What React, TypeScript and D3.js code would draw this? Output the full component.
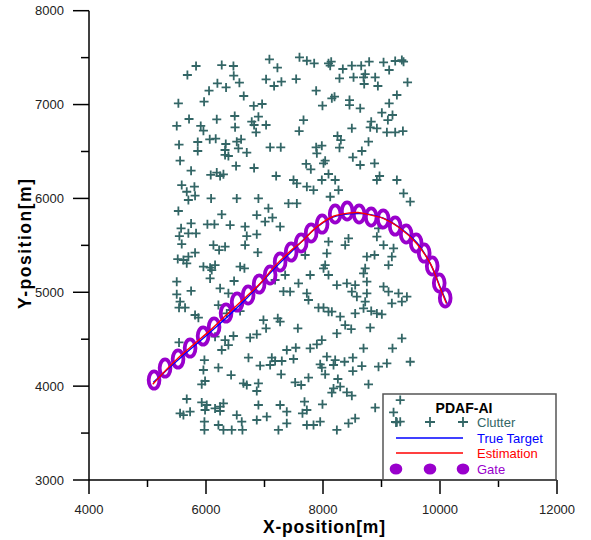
import React from "react";
import * as d3 from "d3";

const xTicks = [4000, 6000, 8000, 10000, 12000];
const xMinorTicks = [5000, 7000, 9000, 11000];
const yTicks = [3000, 4000, 5000, 6000, 7000, 8000];
const yMinorTicks = [3500, 4500, 5500, 6500, 7500];

const clutter: [number, number][] = [
  [5830,7411],[6269,7421],[6469,7411],[7084,7482],[7221,7393],[5682,7315],[6474,7308],[6195,7226],[6343,7183],[6571,7233],[7027,7269],[7164,7198],[7289,7244],[6052,7148],[6645,7091],[5528,7013],[5967,7031],[6816,6985],[6959,7006],[5710,6846],[6184,6843],[6491,6878],[6896,6871],[6782,6818],[7027,6782],[5500,6772],[5910,6772],[5956,6722],[6497,6757],[6822,6782],[6856,6704],[5539,6573],[5859,6601],[5859,6505],[6064,6630],[6166,6637],[6338,6580],[6326,6516],[6526,6605],[6600,6630],[6554,6534],[6697,6488],[6326,6463],[6383,6452],[7096,6544],[7278,6544],[5557,6402],[5745,6296],[6514,6346],[6822,6324],[6081,6250],[6184,6275],[6298,6257],[6241,6239],[7199,6239],
  [7598,7503],[7724,7467],[7849,7439],[8094,7439],[8140,7457],[8123,7414],[8339,7379],[8493,7414],[8653,7414],[8789,7457],[9035,7450],[9131,7368],[9234,7464],[9348,7474],[9377,7457],[7541,7272],[8282,7279],[8522,7290],[8721,7325],[8693,7290],[8704,7219],[8892,7290],[8938,7198],[9445,7237],[7883,7148],[8151,7066],[8197,7084],[7991,6988],[8453,7048],[8453,6995],[8636,6960],[9263,7102],[9131,7013],[9006,6914],[9188,6889],[9109,6835],[7667,6835],[7592,6718],[8493,6747],[8824,6818],[8807,6757],[8921,6747],[9092,6704],[9234,6704],[9366,6718],[8248,6665],[8305,6622],[8282,6541],[8778,6605],[7883,6544],[7980,6562],[7895,6480],[8664,6505],[8510,6438],[8037,6402],[8009,6374],[7712,6367],[7792,6310],[8636,6356],[8881,6374],[8094,6260],
  [7496,6196],[7553,6160],[7724,6125],[7838,6089],[7980,6196],[8208,6196],[8265,6089],[8123,6018],[8921,6196],[8967,6239],[9263,6196],[9377,6054],[9491,5965],[7410,5947],[7553,5947],[8949,5681],[8921,5592],[9035,5503],[9206,5468],[9177,5379],[8436,5574],[8379,5503],[8094,5539],[8066,5415],[7695,5397],[8750,5379],[8881,5397],[9120,5290],[8037,5290],[8009,5255],[7781,5184],[8094,5184],[8721,5255],[8693,5202],[8750,5113],[8237,5077],[8408,5095],[8550,5077],[8493,5006],[8579,4953],[8750,4989],[8721,4900],[7581,5095],[7724,4989],[7438,5006],[7752,4918],[9035,5060],[9120,5006],[9291,4989],[9434,4953],[9177,4882],[9348,4900],
  [5585,6142],[5671,6071],[5802,6125],[5813,6029],[5699,5983],[6087,6000],[6526,6000],[6896,6000],[7067,5894],[6868,5823],[7136,5795],[7267,5699],[7010,5752],[6269,5830],[5528,5866],[5745,5734],[6024,5724],[6144,5724],[6412,5716],[6668,5699],[5574,5681],[5699,5628],[5830,5628],[5545,5599],[6697,5599],[6868,5617],[5585,5514],[6127,5503],[6224,5450],[6326,5486],[6668,5503],[5813,5422],[5699,5379],[5517,5354],[5614,5344],[5671,5308],[5956,5273],[6070,5262],[6155,5290],[6098,5237],[6583,5273],[6657,5255],[6885,5425],[6070,5148],[6480,5120],[5500,5113],[5745,5014],[6241,5042],[5500,4978],[6383,4989],[5557,4900],[6212,4864],[7181,5131],[7353,5184],[7324,5009],
  [5539,4836],[5642,4836],[5813,4758],[5870,4729],[6355,4775],[6440,4811],[6583,4800],[6982,4704],[7227,4722],[7267,4687],[7027,4616],[6868,4552],[6754,4516],[6155,4527],[6326,4491],[6469,4534],[6383,4438],[6269,4385],[5539,4466],[7381,4385],[6726,4303],[7125,4303],[7181,4268],[7296,4268],[7096,4225],[6925,4218],[5973,4278],[5956,4172],[6212,4197],[6429,4118],[7284,4126],[5984,4055],[5927,4019],[6640,4030],[6697,4012],[6896,4030],[6868,3948],[5671,3863],[5927,3827],[6013,3799],[5984,3746],[6155,3763],[6241,3735],[6298,3817],[6241,3781],[5557,3710],[5614,3692],[5728,3728],[6526,3692],[6896,3799],[7039,3675],[7267,3799],[7381,3728],[5973,3621],[5973,3533],[6212,3586],[6298,3533],[6440,3533],[6611,3621],[6623,3533],[6868,3639],[7238,3533],[7381,3604],
  [7923,4836],[8009,4836],[8094,4793],[8151,4793],[8294,4740],[8550,4775],[8693,4829],[8824,4800],[8921,4775],[9006,4765],[7570,4616],[8237,4562],[8379,4651],[8482,4608],[8807,4623],[9348,4509],[7980,4491],[7895,4445],[7781,4403],[7535,4409],[7496,4289],[8693,4403],[9188,4403],[8066,4314],[8208,4278],[8368,4260],[8510,4303],[7952,4232],[7980,4197],[8180,4225],[8664,4214],[8949,4207],[9092,4243],[9491,4260],[8037,4126],[8510,4161],[7752,4090],[7524,4040],[7627,4012],[8254,4076],[8778,4019],[8180,3976],[8294,3994],[8151,3930],[8408,3934],[8493,3898],[7684,3834],[7991,3806],[7724,3746],[7649,3710],[8892,3771],[7724,3586],[7838,3586],[7952,3621],[8237,3533],[8436,3604],[8550,3657],[9320,3852],[9206,3721],[9263,3614],[9320,3621],
];

const trueX = [5100, 5560, 6120, 6700, 7150, 7490, 7610, 7890, 8170, 8460, 8750, 9030, 9320, 9610, 9830, 10000, 10120];
const trueY = [4040, 4300, 4600, 4940, 5240, 5450, 5525, 5690, 5800, 5835, 5835, 5790, 5685, 5525, 5310, 5060, 4880];

const estX = [5090, 5330, 5560, 5800, 6100, 6350, 6700, 6950, 7150, 7480, 7620, 7900, 8180, 8450, 8600, 8760, 9040, 9300, 9600, 9840, 10000, 10110];
const estY = [4020, 4180, 4320, 4450, 4610, 4760, 4960, 5110, 5260, 5460, 5530, 5700, 5810, 5845, 5850, 5830, 5785, 5690, 5520, 5300, 5050, 4880];

const gateX = [5112, 5300, 5522, 5728, 5950, 6138, 6343, 6532, 6720, 6908, 7096, 7267, 7455, 7626, 7797, 7985, 8208, 8413, 8618, 8824, 9029, 9234, 9422, 9593, 9730, 9867, 9987, 10089];
const gateY = [4065, 4193, 4289, 4406, 4534, 4630, 4779, 4896, 4971, 5088, 5184, 5323, 5429, 5525, 5632, 5727, 5834, 5866, 5834, 5802, 5781, 5706, 5621, 5525, 5418, 5280, 5099, 4939];
const GATE_RADIUS = 92;

const legendTitle = "PDAF-AI";
const legendLabels = ["Clutter", "True Target", "Estimation", "Gate"];

const FONT = "'Liberation Sans', Arial, Helvetica, sans-serif";
const CLUTTER_COLOR = "#336666";
const GATE_COLOR = "#9900CC";

export default function App() {
  const x = d3.scaleLinear().domain([4000, 12000]).range([89, 557]);
  const y = d3.scaleLinear().domain([3000, 8000]).range([480, 10.7]);

  const trueLine = d3.line<number>().x((d) => x(trueX[d])).y((d) => y(trueY[d])).curve(d3.curveCatmullRom);
  const estLine = d3.line<number>().x((d) => x(estX[d])).y((d) => y(estY[d])).curve(d3.curveCatmullRom);

  const cross = (cx: number, cy: number, s: number, key: string | number) => (
    <path key={key} d={`M${cx - s},${cy}H${cx + s}M${cx},${cy - s}V${cy + s}`} stroke={CLUTTER_COLOR} strokeWidth={1.8} fill="none" />
  );

  const legX = [396, 430, 463];
  const rowY = [422, 438, 453, 469];
  const legColors = [CLUTTER_COLOR, "#0000FF", "#FF0000", GATE_COLOR];

  return (
    <svg width={591} height={540} style={{ position: "absolute", left: 0, top: 0, background: "#fff" }} fontFamily={FONT}>
      <rect x={0} y={0} width={591} height={540} fill="#fff" />
      {/* clutter */}
      <g>{clutter.map((c, i) => cross(x(c[0]), y(c[1]), 4.5, i))}</g>
      {/* gates */}
      <g>
        {gateX.map((gx, i) => (
          <ellipse
            key={i}
            cx={x(gx)}
            cy={y(gateY[i])}
            rx={x(gx + GATE_RADIUS) - x(gx)}
            ry={y(gateY[i]) - y(gateY[i] + GATE_RADIUS)}
            fill="none"
            stroke={GATE_COLOR}
            strokeWidth={3.8}
          />
        ))}
      </g>
      <path d={trueLine(d3.range(trueX.length)) || ""} stroke="#0000FF" strokeWidth={1.4} fill="none" />
      <path d={estLine(d3.range(estX.length)) || ""} stroke="#FF0000" strokeWidth={1.4} fill="none" />

      {/* axes */}
      <g stroke="#000" strokeWidth={1.5}>
        <line x1={x(4000)} x2={x(4000)} y1={y(8000)} y2={y(3000)} />
        <line x1={x(4000)} x2={x(12000)} y1={y(3000)} y2={y(3000)} />
        {xTicks.map((t) => (
          <line key={t} x1={x(t)} x2={x(t)} y1={y(3000)} y2={y(3000) + 14} />
        ))}
        {xMinorTicks.map((t) => (
          <line key={t} x1={x(t)} x2={x(t)} y1={y(3000)} y2={y(3000) + 7} />
        ))}
        {yTicks.map((t) => (
          <line key={t} x1={x(4000) - 16} x2={x(4000)} y1={y(t)} y2={y(t)} />
        ))}
        {yMinorTicks.map((t) => (
          <line key={t} x1={x(4000) - 8} x2={x(4000)} y1={y(t)} y2={y(t)} />
        ))}
      </g>
      <g fontSize={13} fill="#222">
        {xTicks.map((t) => (
          <text key={t} x={x(t)} y={514} textAnchor="middle">{t}</text>
        ))}
        {yTicks.map((t) => (
          <text key={t} x={64} y={y(t) + 4.6} textAnchor="end">{t}</text>
        ))}
      </g>
      <text x={324} y={533} textAnchor="middle" fontWeight="bold" fontSize={17.5} textLength={122} lengthAdjust="spacing">X-position[m]</text>
      <text transform={`translate(31,244) rotate(-90)`} textAnchor="middle" fontWeight="bold" fontSize={17.5} textLength={130} lengthAdjust="spacing">Y-position[m]</text>

      {/* legend */}
      <rect x={383} y={394} width={173} height={86} fill="none" stroke="#555" strokeWidth={1.5} />
      <text x={464} y={413} textAnchor="middle" fontWeight="bold" fontSize={14}>{legendTitle}</text>
      {legX.map((lx, i) => cross(lx, rowY[0], 5, "lc" + i))}
      <line x1={396} x2={463} y1={rowY[1]} y2={rowY[1]} stroke="#0000FF" strokeWidth={1.5} />
      <line x1={396} x2={463} y1={rowY[2]} y2={rowY[2]} stroke="#FF0000" strokeWidth={1.5} />
      {legX.map((lx, i) => (
        <ellipse key={"lg" + i} cx={lx} cy={rowY[3]} rx={6.3} ry={5.6} fill={GATE_COLOR} />
      ))}
      {legendLabels.map((l, i) => (
        <text key={l} x={477} y={rowY[i] + 4.6} fontSize={13} fill={legColors[i]}>{l}</text>
      ))}
    </svg>
  );
}
